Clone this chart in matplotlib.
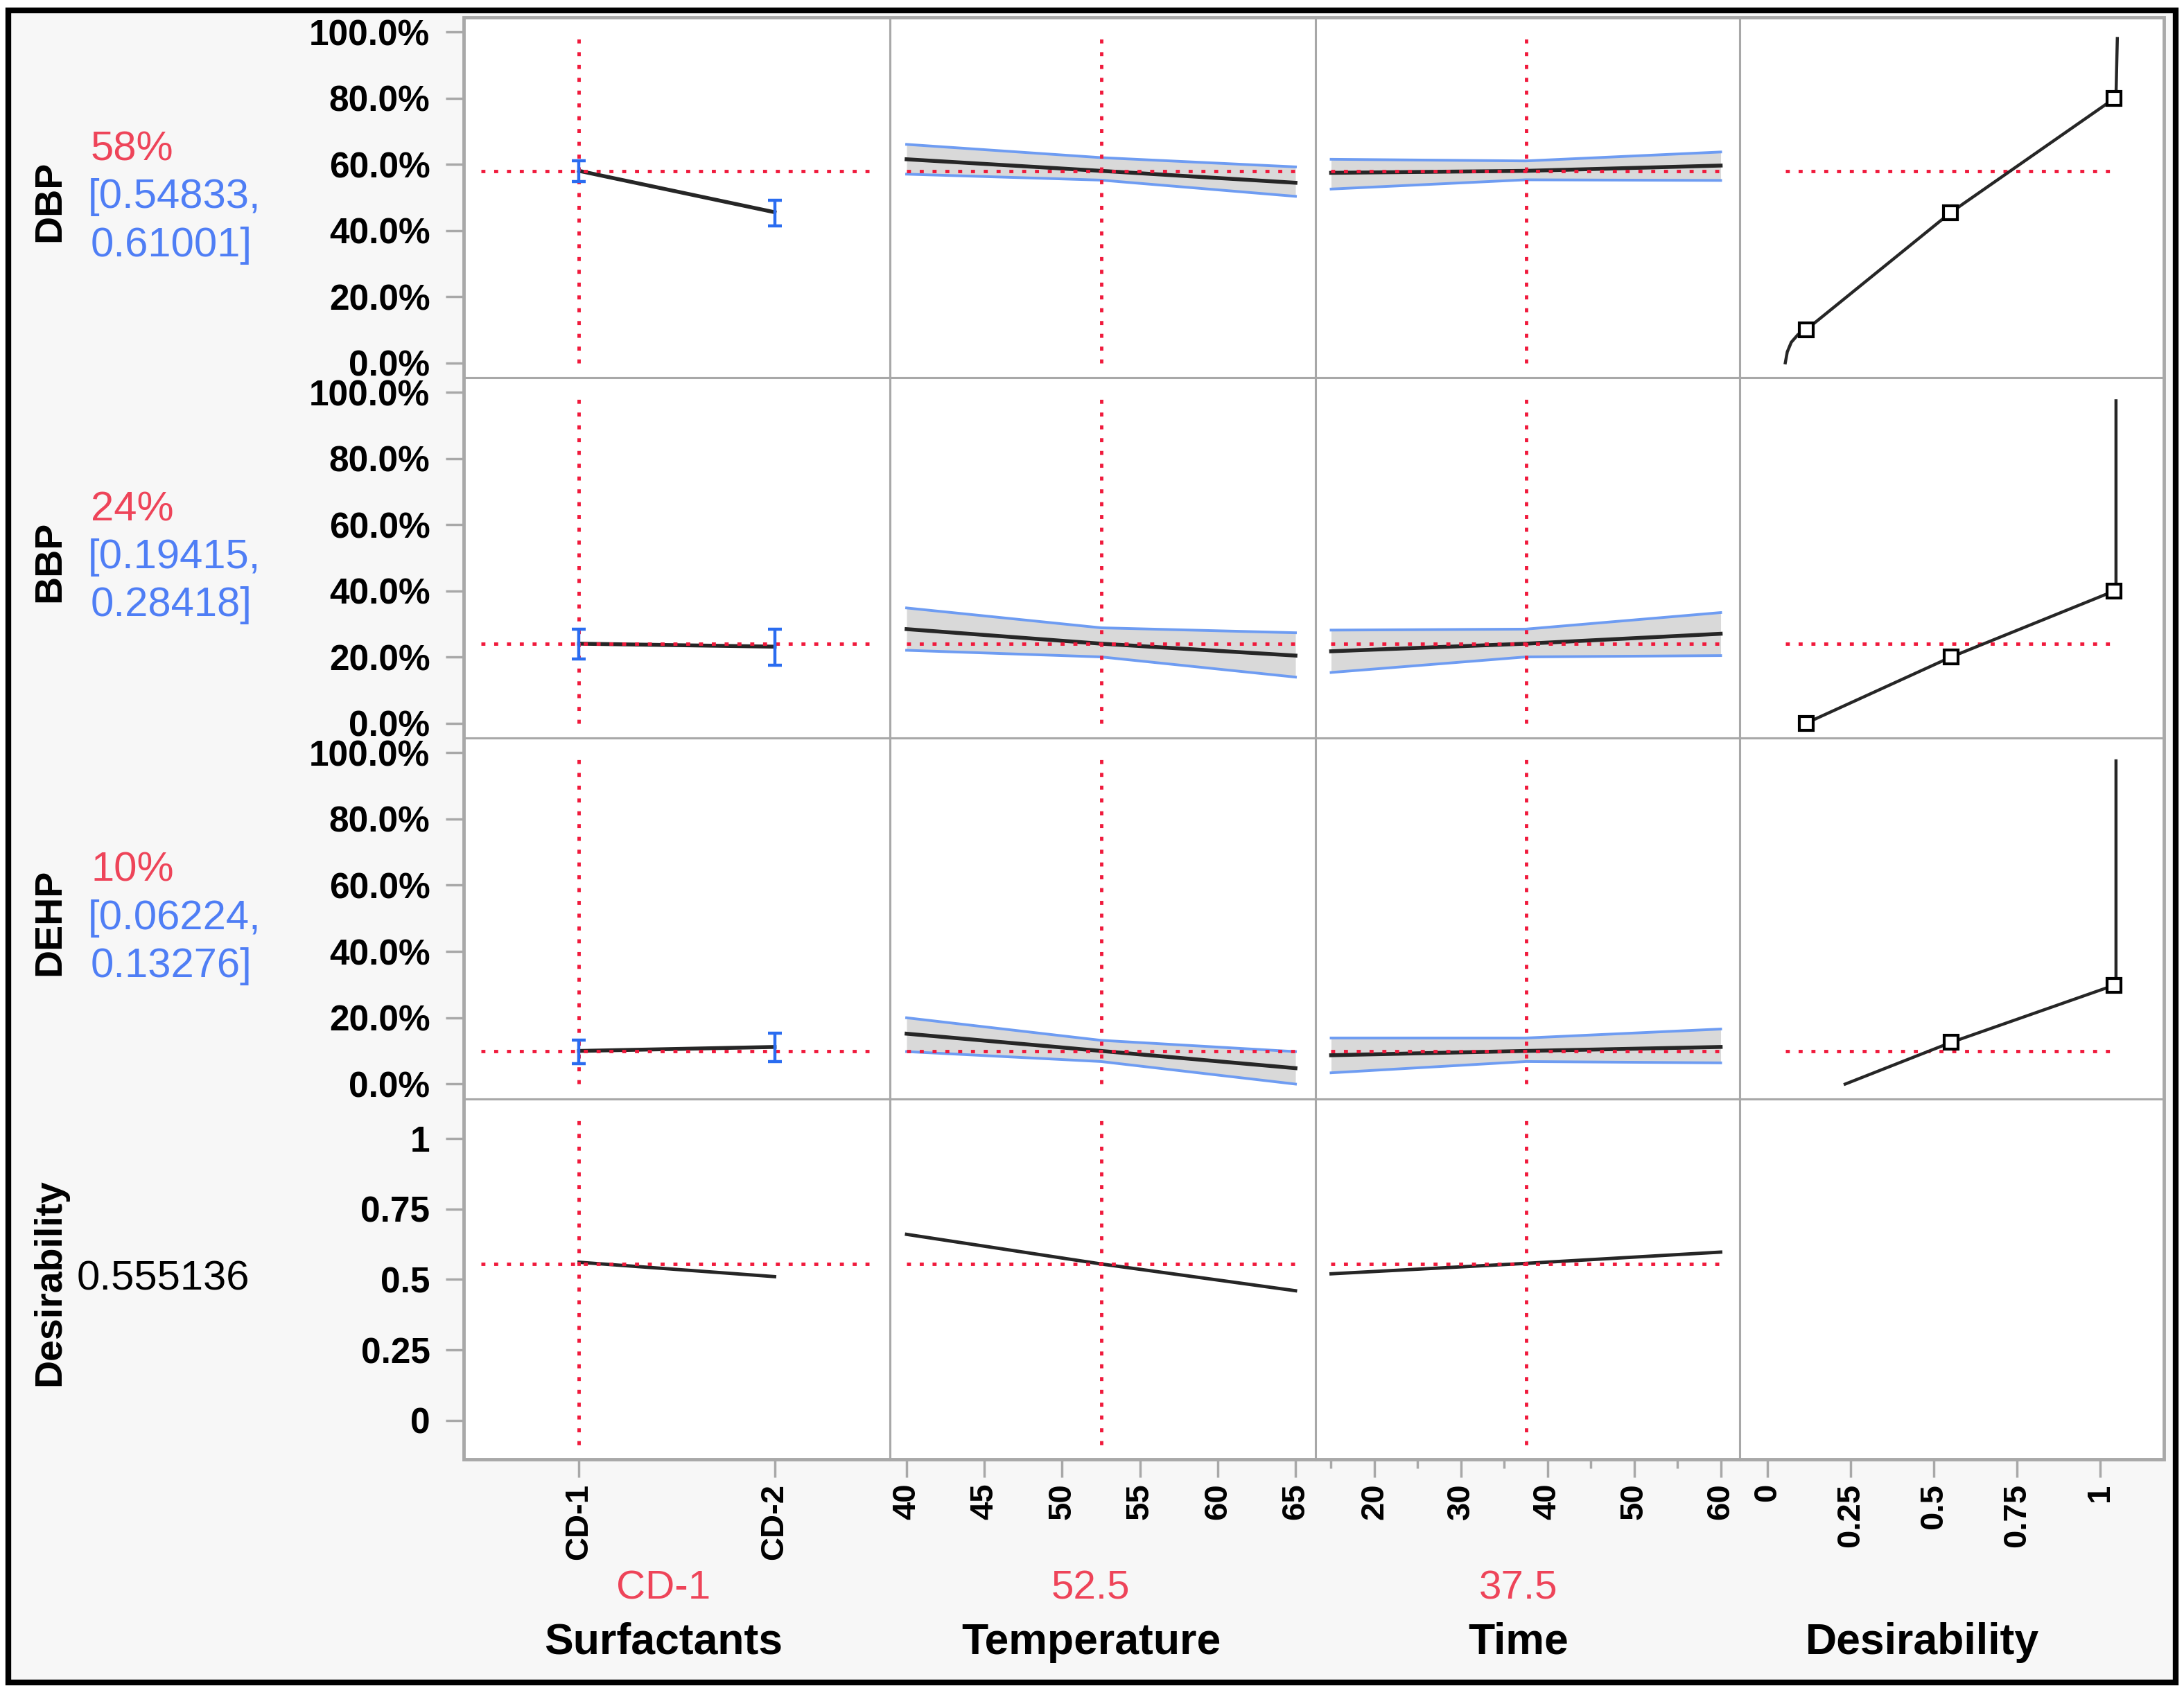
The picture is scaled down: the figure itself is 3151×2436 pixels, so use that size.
import matplotlib
matplotlib.use('Agg')
import matplotlib.pyplot as plt
from matplotlib.patches import Rectangle
import numpy as np

plt.rcParams['font.family'] = ['Liberation Sans', 'DejaVu Sans']

# ------------------------------------------------------------------ data
responses = ['DBP', 'BBP', 'DEHP']
current_pct = [58, 24, 10]
current_text = ['58%', '24%', '10%']
ci_low_text = ['[0.54833,', '[0.19415,', '[0.06224,']
ci_high_text = ['0.61001]', '0.28418]', '0.13276]']
overall_desirability = 0.555136

factor_names = ['Surfactants', 'Temperature', 'Time', 'Desirability']
factor_current_text = ['CD-1', '52.5', '37.5', '']

surf_levels = ['CD-1', 'CD-2']
surf_current = 'CD-1'
temp_current = 52.5
time_current = 37.5

# Surfactants: mean / lower / upper (%) per response
surf_mean = {'DBP': [58.0, 45.5], 'BBP': [24.0, 23.1], 'DEHP': [10.0, 11.2]}
surf_low = {'DBP': [54.8, 41.3], 'BBP': [19.4, 17.5], 'DEHP': [6.2, 6.8]}
surf_high = {'DBP': [61.0, 49.1], 'BBP': [28.4, 28.4], 'DEHP': [13.3, 15.4]}

# Temperature profile
temp_x = [40, 52.5, 65]
temp_mean = {'DBP': [61.5, 58.0, 54.4], 'BBP': [28.4, 24.0, 20.4], 'DEHP': [15.2, 10.0, 4.8]}
temp_low = {'DBP': [57.0, 55.2, 50.3], 'BBP': [22.0, 20.0, 13.9], 'DEHP': [9.8, 6.8, 0.0]}
temp_high = {'DBP': [66.0, 62.0, 59.2], 'BBP': [34.8, 28.8, 27.3], 'DEHP': [20.0, 13.2, 9.8]}

# Time profile
time_x = [15, 37.5, 60]
time_mean = {'DBP': [57.4, 58.0, 59.6], 'BBP': [21.7, 24.0, 27.0], 'DEHP': [8.7, 10.0, 11.2]}
time_low = {'DBP': [52.5, 55.3, 55.1], 'BBP': [15.3, 20.0, 20.4], 'DEHP': [3.4, 6.8, 6.4]}
time_high = {'DBP': [61.5, 61.0, 63.7], 'BBP': [28.1, 28.4, 33.4], 'DEHP': [13.9, 13.9, 16.6]}

# Desirability traces
desir_surf = [0.561, 0.510]
desir_temp = [0.660, 0.555, 0.460]
desir_time = [0.520, 0.557, 0.597]

# Desirability functions (x = desirability, y = response %)
dfun_d = {'DBP': [0.054, 0.060, 0.072, 0.092, 0.117, 0.551, 1.042, 1.048, 1.052],
          'BBP': [0.117, 0.553, 1.042, 1.048, 1.048],
          'DEHP': [0.234, 0.553, 1.042, 1.048, 1.048]}
dfun_y = {'DBP': [0.0, 3.3, 6.2, 8.5, 10.0, 45.4, 79.8, 80.5, 98.0],
          'BBP': [0.0, 20.0, 39.9, 39.9, 97.4],
          'DEHP': [0.0, 12.6, 29.8, 29.8, 97.5]}
handle_d = {'DBP': [0.117, 0.551, 1.042], 'BBP': [0.117, 0.553, 1.042], 'DEHP': [0.553, 1.042]}
handle_y = {'DBP': [10.0, 45.4, 79.8], 'BBP': [0.0, 20.0, 39.9], 'DEHP': [12.6, 29.8]}

# ticks
pct_ticks = [0, 20, 40, 60, 80, 100]
pct_labels = ['0.0%', '20.0%', '40.0%', '60.0%', '80.0%', '100.0%']
des_ticks = [0, 0.25, 0.5, 0.75, 1]
des_labels = ['0', '0.25', '0.5', '0.75', '1']
temp_ticks = [40, 45, 50, 55, 60, 65]
time_ticks = [20, 30, 40, 50, 60]
time_minor = [15, 25, 35, 45, 55]

# ------------------------------------------------------------------ style
RED_LINE = '#f01a3c'
RED_TXT = '#ee4459'
BLUE_TXT = '#4f7ef5'
BAND_BLUE = '#6e9cf2'
ERR_BLUE = '#2a6cf0'
BAND_FILL = '#d9d9d9'
MEAN = '#262626'
FRAME = '#a8a8a8'
DOT = (0, (1.2, 2.6))

W, H = 3151, 2436
col_edges = [669, 1284, 1898, 2510, 3122]
row_edges = [25, 545, 1065, 1586, 2106]
xlims = [(-0.59, 1.59), (38.93, 66.29), (13.2, 62.2), (-0.083, 1.192)]
resp_ylim = (-4.5, 104.4)
des_ylim = (-0.138, 1.14)
surf_span = (-0.5, 1.5)
temp_span = (40, 65)
time_span = (15, 60)
dfun_span = (0.054, 1.045)
des_vspan = (-0.086, 1.072)

fig = plt.figure(figsize=(W / 100, H / 100), dpi=100)
fig.patch.set_facecolor('white')
fig.add_artist(Rectangle((12 / W, 1 - 2428 / H), (3139 - 12) / W, (2428 - 15) / H,
                         transform=fig.transFigure, facecolor='#f7f7f7',
                         edgecolor='black', lw=6, zorder=-5))

surf_pos = np.arange(len(surf_levels))
surf_cur_pos = surf_levels.index(surf_current)

axes = [[None] * 4 for _ in range(4)]
for r in range(4):
    for c in range(4):
        x0, x1 = col_edges[c], col_edges[c + 1]
        y0, y1 = row_edges[r], row_edges[r + 1]
        ax = fig.add_axes([x0 / W, 1 - y1 / H, (x1 - x0) / W, (y1 - y0) / H])
        ax.set_facecolor('white')
        for s in ax.spines.values():
            s.set_color(FRAME)
            s.set_linewidth(2.2)
        ax.set_xlim(*xlims[c])
        ax.set_ylim(*(resp_ylim if r < 3 else des_ylim))
        ax.tick_params(axis='both', which='both', direction='out', color=FRAME,
                       width=2.5, length=19)
        # y ticks
        if c == 0:
            if r < 3:
                ax.set_yticks(pct_ticks)
                ax.set_yticklabels(pct_labels, fontsize=37, fontweight='bold')
            else:
                ax.set_yticks(des_ticks)
                ax.set_yticklabels(des_labels, fontsize=37, fontweight='bold')
            ax.tick_params(axis='y', pad=16)
        else:
            ax.tick_params(axis='y', left=False, labelleft=False)
        # x ticks
        if r == 3:
            if c == 0:
                ax.set_xticks(surf_pos)
                ax.set_xticklabels(surf_levels)
            elif c == 1:
                ax.set_xticks(temp_ticks)
                ax.set_xticklabels([str(t) for t in temp_ticks])
            elif c == 2:
                ax.set_xticks(time_ticks)
                ax.set_xticklabels([str(t) for t in time_ticks])
                ax.set_xticks(time_minor, minor=True)
                ax.tick_params(axis='x', which='minor', length=9.5, width=2.5, color=FRAME)
            else:
                ax.set_xticks(des_ticks)
                ax.set_xticklabels(des_labels)
            for lbl in ax.get_xticklabels():
                lbl.set_rotation(90)
                lbl.set_fontsize(34)
                lbl.set_fontweight('bold')
                lbl.set_va('top')
                lbl.set_ha('center')
            ax.tick_params(axis='x', which='major', pad=6)
        else:
            ax.tick_params(axis='x', which='both', bottom=False, labelbottom=False)
        axes[r][c] = ax

# ------------------------------------------------------------------ response rows
for r, name in enumerate(responses):
    cur = current_pct[r]
    # Surfactants
    ax = axes[r][0]
    ax.plot(surf_pos, surf_mean[name], color=MEAN, lw=4, zorder=3)
    m = np.array(surf_mean[name])
    lo = m - np.array(surf_low[name])
    hi = np.array(surf_high[name]) - m
    ax.errorbar(surf_pos, m, yerr=[lo, hi], fmt='none', ecolor=ERR_BLUE,
                elinewidth=3.2, capsize=7.5, capthick=3.2, zorder=5)
    ax.plot(surf_span, [cur, cur], color=RED_LINE, lw=3.5, ls=DOT, zorder=4)
    ax.plot([surf_cur_pos, surf_cur_pos], [0, 100], color=RED_LINE, lw=3.5, ls=DOT, zorder=4)

    # Temperature
    ax = axes[r][1]
    ax.fill_between(temp_x, temp_low[name], temp_high[name], color=BAND_FILL, lw=0, zorder=1)
    ax.plot(temp_x, temp_low[name], color=BAND_BLUE, lw=2.8, zorder=2)
    ax.plot(temp_x, temp_high[name], color=BAND_BLUE, lw=2.8, zorder=2)
    ax.plot(temp_x, temp_mean[name], color=MEAN, lw=4, zorder=3)
    ax.plot(temp_span, [cur, cur], color=RED_LINE, lw=3.5, ls=DOT, zorder=4)
    ax.plot([temp_current, temp_current], [0, 100], color=RED_LINE, lw=3.5, ls=DOT, zorder=4)

    # Time
    ax = axes[r][2]
    ax.fill_between(time_x, time_low[name], time_high[name], color=BAND_FILL, lw=0, zorder=1)
    ax.plot(time_x, time_low[name], color=BAND_BLUE, lw=2.8, zorder=2)
    ax.plot(time_x, time_high[name], color=BAND_BLUE, lw=2.8, zorder=2)
    ax.plot(time_x, time_mean[name], color=MEAN, lw=4, zorder=3)
    ax.plot(time_span, [cur, cur], color=RED_LINE, lw=3.5, ls=DOT, zorder=4)
    ax.plot([time_current, time_current], [0, 100], color=RED_LINE, lw=3.5, ls=DOT, zorder=4)

    # Desirability function
    ax = axes[r][3]
    ax.plot(dfun_span, [cur, cur], color=RED_LINE, lw=3.5, ls=DOT, zorder=2)
    ax.plot(dfun_d[name], dfun_y[name], color=MEAN, lw=3.2, zorder=3)
    ax.plot(handle_d[name], handle_y[name], ls='none', marker='s', markersize=14,
            mfc='white', mec='black', mew=3, zorder=4)

# ------------------------------------------------------------------ desirability row
ax = axes[3][0]
ax.plot(surf_pos, desir_surf, color=MEAN, lw=3.5, zorder=3)
ax.plot(surf_span, [overall_desirability] * 2, color=RED_LINE, lw=3.5, ls=DOT, zorder=4)
ax.plot([surf_cur_pos, surf_cur_pos], des_vspan, color=RED_LINE, lw=3.5, ls=DOT, zorder=4)

ax = axes[3][1]
ax.plot(temp_x, desir_temp, color=MEAN, lw=3.5, zorder=3)
ax.plot(temp_span, [overall_desirability] * 2, color=RED_LINE, lw=3.5, ls=DOT, zorder=4)
ax.plot([temp_current, temp_current], des_vspan, color=RED_LINE, lw=3.5, ls=DOT, zorder=4)

ax = axes[3][2]
ax.plot(time_x, desir_time, color=MEAN, lw=3.5, zorder=3)
ax.plot(time_span, [overall_desirability] * 2, color=RED_LINE, lw=3.5, ls=DOT, zorder=4)
ax.plot([time_current, time_current], des_vspan, color=RED_LINE, lw=3.5, ls=DOT, zorder=4)

# outer frame of the grid
fig.add_artist(Rectangle((col_edges[0] / W, 1 - row_edges[-1] / H),
                         (col_edges[-1] - col_edges[0]) / W,
                         (row_edges[-1] - row_edges[0]) / H,
                         transform=fig.transFigure, fill=False,
                         edgecolor=FRAME, lw=3.5, zorder=10))

# ------------------------------------------------------------------ side texts
for r in range(4):
    yc = (row_edges[r] + row_edges[r + 1]) / 2
    label = responses[r] if r < 3 else 'Desirability'
    fig.text(72 / W, 1 - (yc + 5) / H, label, rotation=90, ha='center', va='center',
             fontsize=40, fontweight='bold', color='black')
    if r < 3:
        fig.text(131 / W, 1 - (yc - 69) / H, current_text[r], ha='left', va='center',
                 fontsize=43, color=RED_TXT)
        fig.text(127 / W, 1 - yc / H, ci_low_text[r], ha='left', va='center',
                 fontsize=43, color=BLUE_TXT)
        fig.text(131 / W, 1 - (yc + 69) / H, ci_high_text[r], ha='left', va='center',
                 fontsize=43, color=BLUE_TXT)
    else:
        fig.text(111 / W, 1 - yc / H, f'{overall_desirability:.6f}', ha='left', va='center',
                 fontsize=43, color='black')

# ------------------------------------------------------------------ bottom texts
label_x = [957, 1574, 2191, 2773]
for c in range(4):
    if factor_current_text[c]:
        fig.text(label_x[c] / W, 1 - 2292 / H, factor_current_text[c], ha='center',
                 va='center', fontsize=42, color=RED_TXT)
    fig.text(label_x[c] / W, 1 - 2370 / H, factor_names[c], ha='center', va='center',
             fontsize=45, fontweight='bold', color='black')

fig.savefig('out.png', dpi=100, facecolor=fig.get_facecolor())
